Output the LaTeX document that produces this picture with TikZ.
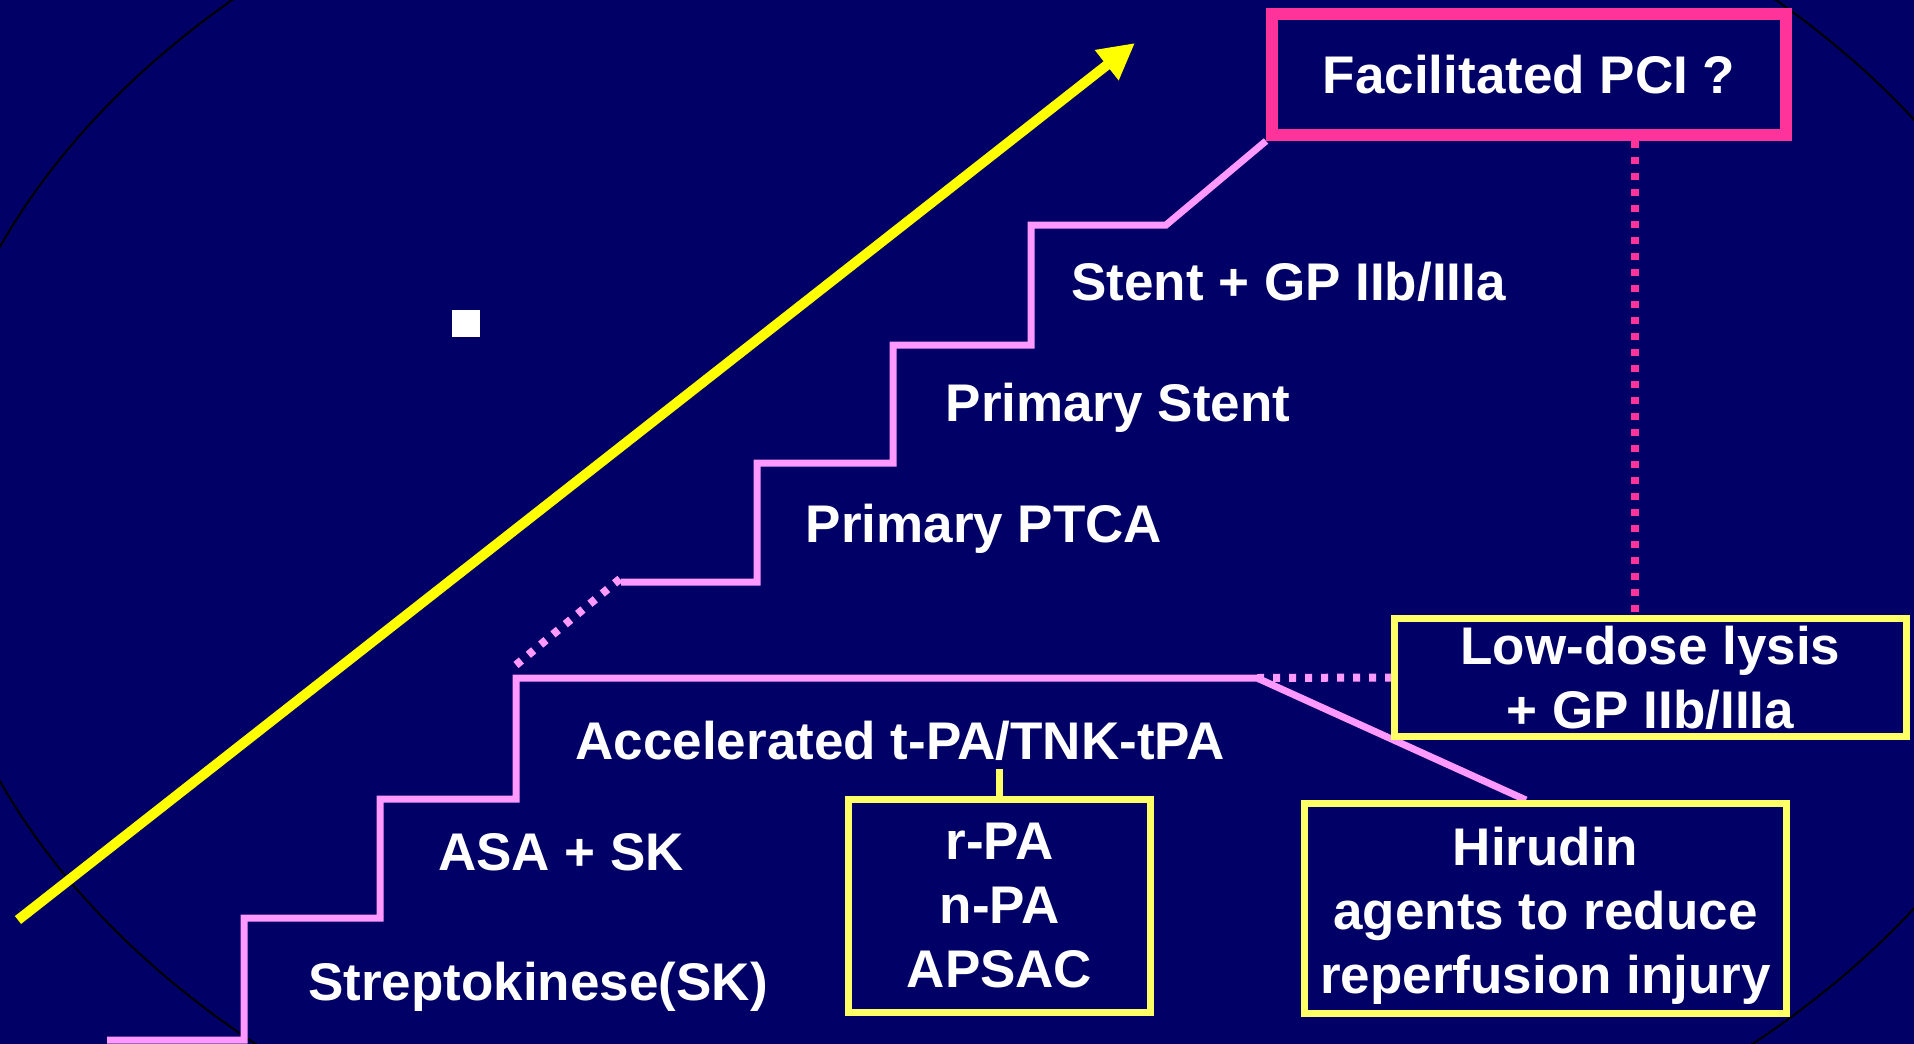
\documentclass[tikz,border=0pt]{standalone}
\usepackage{fontspec}
\setmainfont{Liberation Sans}
\usetikzlibrary{arrows.meta}
\definecolor{bg}{RGB}{0,0,102}
\definecolor{stair}{RGB}{255,153,255}
\definecolor{hotpink}{RGB}{255,51,153}
\definecolor{lyellow}{RGB}{255,255,102}
\definecolor{ayellow}{RGB}{255,255,0}
\pgfdeclarelayer{bottom}
\pgfdeclarelayer{links}
\pgfsetlayers{bottom,links,main}
\begin{document}
\begin{tikzpicture}[x=1pt,y=-1pt,
  bigfont/.style={font=\fontsize{53}{64}\selectfont\bfseries},
  lbl/.style={bigfont, text=white, inner sep=0pt, anchor=base},
  ybox/.style={bigfont, draw=lyellow, line width=7pt, fill=bg, text=white, align=center, inner sep=0pt},
  pbox/.style={bigfont, draw=hotpink, line width=12pt, fill=bg, text=white, align=center, inner sep=0pt},
  stairline/.style={draw=stair, line width=7pt, line join=miter},
  dotline/.style={line width=8pt, dash pattern=on 7pt off 9pt},
]
\useasboundingbox (0,0) rectangle (1914,1044);
\clip (0,0) rectangle (1914,1044);

% boxes
\node[pbox, minimum width=514pt, minimum height=121pt] (fac) at (1529,74.5) {Facilitated PCI ?};
\node[ybox, minimum width=512pt, minimum height=118pt] (low) at (1650.5,677.5) {Low-dose lysis\\+ GP IIb/IIIa};
\node[ybox, minimum width=482pt, minimum height=210pt] (hir) at (1545.5,908.5) {\rule{0pt}{52pt}Hirudin\\agents to reduce\\reperfusion injury};
\node[ybox, minimum width=302pt, minimum height=213pt] (rpa) at (999.5,906) {r-PA\\n-PA\\APSAC};

% labels
\node[lbl] (l1) at (1288.5,300) {Stent + GP IIb/IIIa};
\node[lbl] (l2) at (1118,421) {Primary Stent};
\node[lbl] (l3) at (984,542) {Primary PTCA};
\node[lbl] (l4) at (900,759) {Accelerated t-PA/TNK-tPA};
\node[lbl] (l5) at (561,870) {ASA + SK};
\node[lbl] (l6) at (538,1000) {Streptokinese(SK)};

% coordinates
\coordinate (ys) at (18,920);
\coordinate (yt) at (1135,43);
\coordinate (jn) at (1257,678);
\coordinate (hj) at (1526,800);
\coordinate (dd1) at (516,665);
\coordinate (dd2) at (621,578);
\coordinate (vd) at (1635,0);
\coordinate (accbot) at (999.5,769);

\begin{pgfonlayer}{bottom}
  \fill[bg] (0,0) rectangle (1914,1044);
  \draw[black, line width=2pt] (1004,514) ellipse [x radius=1077, y radius=737];
  \fill[white] (452,310) rectangle (480,337);
\end{pgfonlayer}

\begin{pgfonlayer}{links}
  % yellow arrow
  \draw[ayellow, line width=10pt, -{Triangle[length=36pt,width=36pt]}] (ys) -- (yt);
  % staircase
  \draw[stairline] (107,1040) -- (244,1040) -- (244,918) -- (380,918) -- (380,799) -- (516,799) -- (516,678) -- (jn) -- (hj);
  \draw[stairline] (621,582) -- (757,582) -- (757,463) -- (893,463) -- (893,345) -- (1031,345) -- (1031,225) -- (1166,225) -- (fac.south west);
  \draw[stair, dotline] (dd1) -- (dd2);
  \draw[stair, dotline] (jn) -- (low.west);
  \draw[hotpink, dotline] (fac.south -| vd) -- (low.north -| vd);
  \draw[lyellow, line width=7pt] (accbot) -- (rpa.north);
\end{pgfonlayer}
\end{tikzpicture}
\end{document}
